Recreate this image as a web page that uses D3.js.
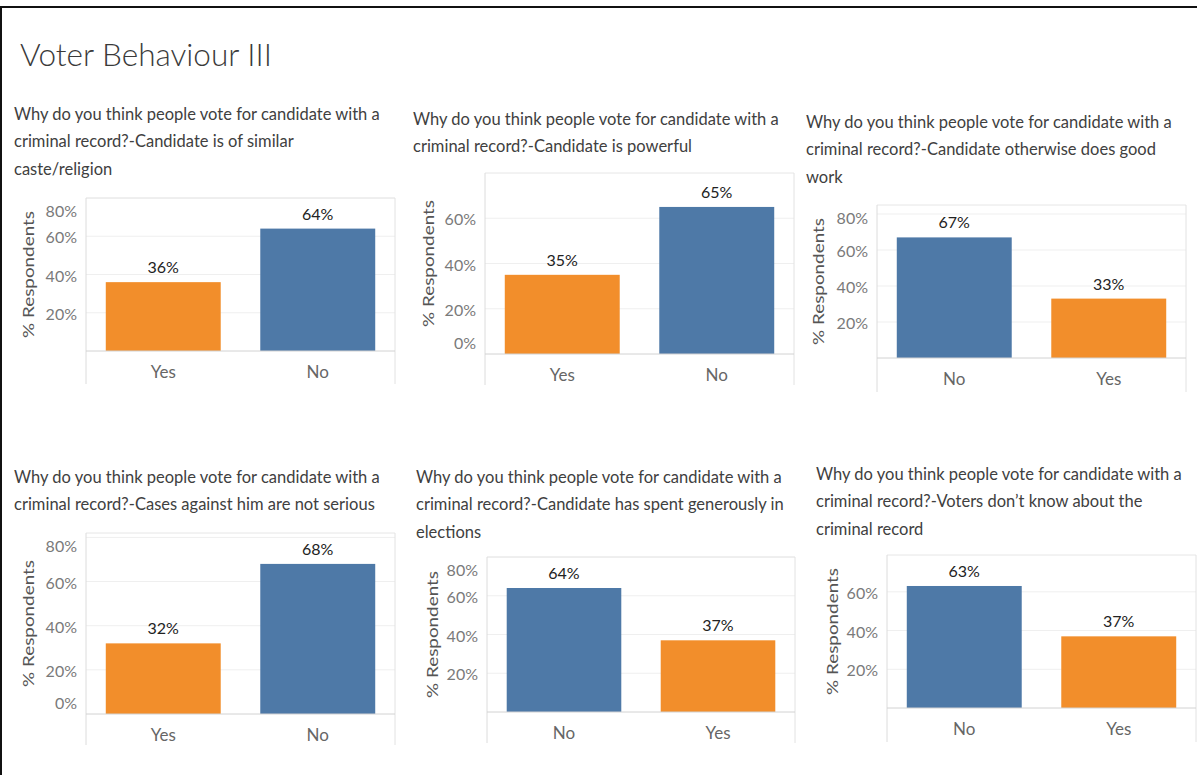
<!DOCTYPE html>
<html><head><meta charset="utf-8">
<script src="https://cdn.jsdelivr.net/npm/d3@7"></script>
<style>
body{margin:0;background:#fff;}
svg{display:block;font-family:Lato,"Open Sans",sans-serif;}
</style>
</head><body>
<svg id="c" width="1197" height="775"></svg>
<script>
// ---------- data ----------
const chartTitle = "Voter Behaviour III";
const panelTitles = [
  ["Why do you think people vote for candidate with a", "criminal record?-Candidate is of similar", "caste/religion"],
  ["Why do you think people vote for candidate with a", "criminal record?-Candidate is powerful"],
  ["Why do you think people vote for candidate with a", "criminal record?-Candidate otherwise does good", "work"],
  ["Why do you think people vote for candidate with a", "criminal record?-Cases against him are not serious"],
  ["Why do you think people vote for candidate with a", "criminal record?-Candidate has spent generously in", "elections"],
  ["Why do you think people vote for candidate with a", "criminal record?-Voters don\u2019t know about the", "criminal record"]
];
const categories = [["Yes","No"],["Yes","No"],["No","Yes"],["Yes","No"],["No","Yes"],["No","Yes"]];
const values = [[36,64],[35,65],[67,33],[32,68],[64,37],[63,37]];
const axisMax = [80,80,85,82,80,79];
const tickValues = [[20,40,60,80],[0,20,40,60],[20,40,60,80],[0,20,40,60,80],[20,40,60,80],[20,40,60]];
const yAxisTitle = "% Respondents";
const colors = {Yes:"#f28e2b", No:"#4e79a7"};

// ---------- layout ----------
const layout = [
  {tx:14,  ty:120, l:86,  r:395,  t:198, b:351, hb:384, yt:28},
  {tx:413, ty:125, l:485, r:794,  t:173, b:354, hb:385, yt:428},
  {tx:806, ty:128, l:877, r:1186, t:205, b:358, hb:392, yt:818},
  {tx:14,  ty:483, l:86,  r:395,  t:533, b:714, hb:745, yt:28},
  {tx:416, ty:483, l:487, r:795,  t:557, b:712, hb:743, yt:432},
  {tx:816, ty:480, l:887, r:1196, t:555, b:708, hb:742, yt:832}
];
const lineH = 27.4;
const FONT = "Lato,'Open Sans',sans-serif";

const svg = d3.select("#c");
svg.append("rect").attr("width",1197).attr("height",775).attr("fill","#fff");

// frame
svg.append("line").attr("x1",0).attr("x2",1197).attr("y1",7).attr("y2",7).attr("stroke","#111").attr("stroke-width",2);
svg.append("line").attr("x1",1).attr("x2",1).attr("y1",7).attr("y2",775).attr("stroke","#111").attr("stroke-width",2);

// fit text horizontally by scaling (keeps glyph height)
function squeeze(sel, x, y, sx, rot) {
  sel.attr("x", 0).attr("y", 0)
     .attr("transform", `translate(${x},${y})${rot ? " rotate(" + rot + ")" : ""} scale(${sx},1)`);
}

// main title
const mt = svg.append("text").attr("font-size",32).attr("font-weight",300).attr("fill","#3a3a3a").text(chartTitle);
squeeze(mt, 20, 66, 252 / mt.node().getComputedTextLength());

// measure compression for panel titles
const probe = svg.append("text").attr("font-size",18).text(panelTitles[0][0]);
const ratio = 366 / probe.node().getComputedTextLength();
probe.remove();

layout.forEach((L, i) => {
  const g = svg.append("g");
  // title
  panelTitles[i].forEach((line, k) => {
    const t = g.append("text").attr("font-size",18).attr("fill","#404040").text(line);
    squeeze(t, L.tx, L.ty + k*lineH, ratio);
  });

  const x = d3.scaleBand().domain(categories[i]).range([L.l, L.r]).paddingInner(0.256).paddingOuter(0.128);
  const y = d3.scaleLinear().domain([0, axisMax[i]]).range([L.b, L.t]);

  // gridlines
  g.selectAll(".grid").data(tickValues[i].filter(d => d > 0)).enter().append("line")
    .attr("x1", L.l).attr("x2", L.r).attr("y1", d => y(d)).attr("y2", d => y(d))
    .attr("stroke","#efefef").attr("stroke-width",1);

  // pane borders
  g.append("line").attr("x1",L.l).attr("x2",L.r).attr("y1",L.t).attr("y2",L.t).attr("stroke","#e6e6e6");
  g.append("line").attr("x1",L.l).attr("x2",L.l).attr("y1",L.t).attr("y2",L.hb).attr("stroke","#dcdcdc");
  g.append("line").attr("x1",L.r).attr("x2",L.r).attr("y1",L.t).attr("y2",L.hb).attr("stroke","#e2e2e2");

  const rows = categories[i].map((c, j) => ({c, v: values[i][j]}));

  // bars
  g.selectAll(".bar").data(rows).enter().append("rect")
    .attr("x", d => x(d.c)).attr("width", x.bandwidth())
    .attr("y", d => y(d.v)).attr("height", d => y(0) - y(d.v))
    .attr("fill", d => colors[d.c]);

  // baseline
  g.append("line").attr("x1",L.l).attr("x2",L.r).attr("y1",L.b).attr("y2",L.b).attr("stroke","#d2d2d2");

  // value labels
  g.selectAll(".val").data(rows).enter().append("text")
    .attr("x", d => x(d.c) + x.bandwidth()/2).attr("y", d => y(d.v) - 9)
    .attr("text-anchor","middle").attr("font-size",16).attr("fill","#222")
    .text(d => d.v + "%");

  // y axis
  const ya = g.append("g").attr("transform", `translate(${L.l},0)`)
    .call(d3.axisLeft(y).tickValues(tickValues[i]).tickFormat(d => d + "%").tickSize(0).tickPadding(9));
  ya.select(".domain").remove();
  ya.selectAll(".tick").attr("transform", d => {
    const yy = Math.max(L.t + 14, Math.min(L.b - 10, y(d) + 2));
    return `translate(0,${yy})`;
  });
  ya.selectAll("text").attr("font-size",16).attr("fill","#7a7a7a").attr("font-family",FONT);

  // x axis
  const xa = g.append("g").attr("transform", `translate(0,${L.b})`)
    .call(d3.axisBottom(x).tickSize(0).tickPadding(15));
  xa.select(".domain").remove();
  xa.selectAll("text").attr("font-size",17).attr("fill","#666").attr("font-family",FONT);

  // y axis title
  const yt = g.append("text").attr("text-anchor","middle").attr("dominant-baseline","central")
    .attr("font-size",16).attr("fill","#555").text(yAxisTitle);
  squeeze(yt, L.yt, (L.t + L.b)/2, 127 / yt.node().getComputedTextLength(), -90);
});
</script>
</body></html>
